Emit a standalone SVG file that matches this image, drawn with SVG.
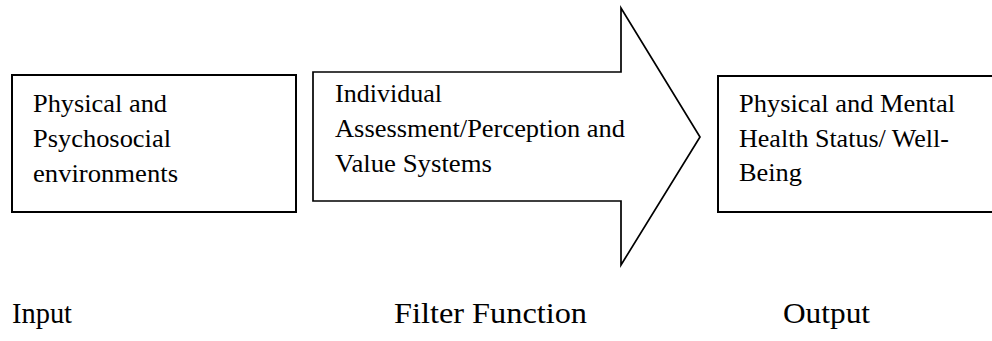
<svg xmlns="http://www.w3.org/2000/svg" width="992" height="341" viewBox="0 0 992 341">
<style>
.box{fill:#fff;stroke:#000;stroke-width:2}
.arrow{fill:#fff;stroke:#000;stroke-width:1.7;stroke-linejoin:miter}
.t{font-family:'Liberation Serif','Times New Roman',Times,serif;font-size:26px;fill:#000}
.lbl{font-family:'Liberation Serif','Times New Roman',Times,serif;font-size:30px;fill:#000}
</style>
<rect width="992" height="341" fill="#fff"/>
<g id="input-node">
<rect class="box" x="12" y="75" width="284" height="137"/>
<text class="t" x="33" y="112" textLength="134" lengthAdjust="spacingAndGlyphs">Physical and</text>
<text class="t" x="33" y="147" textLength="138" lengthAdjust="spacingAndGlyphs">Psychosocial</text>
<text class="t" x="33" y="182" textLength="145" lengthAdjust="spacingAndGlyphs">environments</text>
</g>
<g id="filter-node">
<polygon class="arrow" points="313,72 621,72 621,8 700,137 621,265 621,201 313,201"/>
<text class="t" x="335" y="102" textLength="107" lengthAdjust="spacingAndGlyphs">Individual</text>
<text class="t" x="335" y="137" textLength="290" lengthAdjust="spacingAndGlyphs">Assessment/Perception and</text>
<text class="t" x="335" y="172" textLength="157" lengthAdjust="spacingAndGlyphs">Value Systems</text>
</g>
<g id="output-node">
<rect class="box" x="718" y="76" width="280" height="136"/>
<text class="t" x="739" y="112" textLength="216" lengthAdjust="spacingAndGlyphs">Physical and Mental</text>
<text class="t" x="739" y="147" textLength="210" lengthAdjust="spacingAndGlyphs">Health Status/ Well-</text>
<text class="t" x="739" y="181" textLength="63" lengthAdjust="spacingAndGlyphs">Being</text>
</g>
<g id="connectors"></g>
<g id="labels">
<text class="lbl" x="12" y="323" textLength="60" lengthAdjust="spacingAndGlyphs">Input</text>
<text class="lbl" x="394" y="323" textLength="193" lengthAdjust="spacingAndGlyphs">Filter Function</text>
<text class="lbl" x="783" y="323" textLength="87" lengthAdjust="spacingAndGlyphs">Output</text>
</g>
</svg>
